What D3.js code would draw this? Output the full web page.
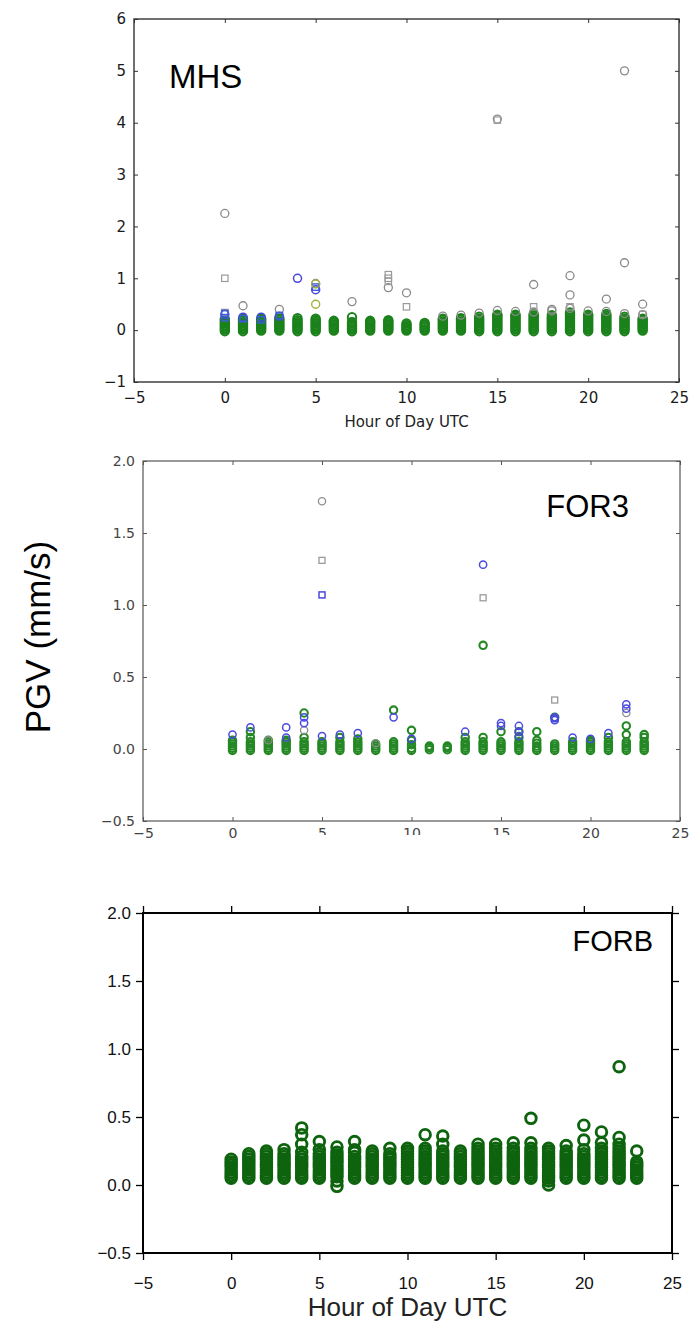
<!DOCTYPE html>
<html>
<head>
<meta charset="utf-8">
<script src="https://cdn.jsdelivr.net/npm/d3@7"></script>
<style>
  body { margin: 0; background: #fff; }
  svg { display: block; }
</style>
</head>
<body>
<div class="canvas"></div>
<script>
// hours of the day (x categories)
const hours = [0, 1, 2, 3, 4, 5, 6, 7, 8, 9, 10, 11, 12, 13, 14, 15, 16, 17, 18, 19, 20, 21, 22, 23];

// ---- MHS panel ----
// green columns, one list per hour
const mhsGreen = [
  [-0.02, 0.01, 0.04, 0.07, 0.1, 0.13, 0.16, 0.19, 0.21],
  [-0.02, 0.01, 0.04, 0.07, 0.1, 0.13, 0.16, 0.19, 0.22],
  [-0.01, 0.02, 0.05, 0.08, 0.11, 0.14, 0.17, 0.2, 0.22],
  [-0.01, 0.02, 0.05, 0.08, 0.11, 0.14, 0.17, 0.2, 0.23],
  [-0.02, 0.01, 0.04, 0.07, 0.1, 0.13, 0.16, 0.19, 0.23],
  [-0.02, 0.01, 0.04, 0.07, 0.1, 0.13, 0.16, 0.19, 0.22],
  [-0.01, 0.02, 0.05, 0.08, 0.11, 0.14, 0.16, 0.18],
  [-0.02, 0.01, 0.04, 0.07, 0.1, 0.13, 0.16, 0.25],
  [-0.01, 0.02, 0.05, 0.08, 0.11, 0.14, 0.16, 0.18],
  [-0.01, 0.02, 0.05, 0.08, 0.11, 0.14, 0.17, 0.19],
  [-0.01, 0.02, 0.04, 0.07, 0.1, 0.13],
  [-0.01, 0.02, 0.05, 0.08, 0.11, 0.14],
  [-0.01, 0.02, 0.05, 0.08, 0.11, 0.14, 0.17, 0.2, 0.22],
  [-0.01, 0.02, 0.05, 0.08, 0.11, 0.14, 0.17, 0.2, 0.23],
  [-0.02, 0.01, 0.04, 0.07, 0.1, 0.13, 0.16, 0.19, 0.22, 0.26],
  [-0.02, 0.01, 0.04, 0.07, 0.1, 0.13, 0.16, 0.19, 0.22, 0.25, 0.28, 0.3],
  [-0.02, 0.01, 0.04, 0.07, 0.1, 0.13, 0.16, 0.19, 0.22, 0.25, 0.28, 0.3],
  [-0.02, 0.01, 0.04, 0.07, 0.1, 0.13, 0.16, 0.19, 0.22, 0.25, 0.28, 0.31],
  [-0.02, 0.01, 0.04, 0.07, 0.1, 0.13, 0.16, 0.19, 0.22, 0.25, 0.29],
  [-0.02, 0.01, 0.04, 0.07, 0.1, 0.13, 0.16, 0.19, 0.22, 0.25, 0.28, 0.31, 0.34],
  [-0.02, 0.01, 0.04, 0.07, 0.1, 0.13, 0.16, 0.19, 0.22, 0.25, 0.28, 0.3],
  [-0.02, 0.01, 0.04, 0.07, 0.1, 0.13, 0.16, 0.19, 0.22, 0.25, 0.28, 0.31],
  [-0.02, 0.01, 0.04, 0.07, 0.1, 0.13, 0.16, 0.19, 0.22, 0.26],
  [-0.01, 0.02, 0.05, 0.08, 0.11, 0.14, 0.17, 0.2, 0.22]
];
const mhsGreyCircHour = [0, 1, 3, 5, 7, 9, 10, 15, 17, 18, 19, 19, 21, 22, 22, 23, 12, 13, 14, 15, 16, 17, 18, 19, 20, 21, 22, 23];
const mhsGreyCircVal = [2.25, 0.47, 0.4, 0.9, 0.55, 0.82, 0.72, 4.07, 0.88, 0.4, 0.68, 1.05, 0.6, 5.0, 1.3, 0.5, 0.27, 0.29, 0.33, 0.38, 0.36, 0.35, 0.37, 0.42, 0.37, 0.36, 0.32, 0.3];
const mhsGreySqHour = [0, 0, 9, 9, 9, 10, 15, 17, 19, 23];
const mhsGreySqVal = [1.0, 0.34, 1.07, 1.0, 0.94, 0.45, 4.05, 0.45, 0.45, 0.3];
const mhsBlueCircHour = [4, 5, 0, 1, 2, 3];
const mhsBlueCircVal = [1.0, 0.78, 0.3, 0.25, 0.25, 0.27];
const mhsBlueSqHour = [0, 0, 1, 2, 3, 5];
const mhsBlueSqVal = [0.32, 0.24, 0.22, 0.2, 0.28, 0.83];
const mhsOliveHour = [5, 5];
const mhsOliveVal = [0.89, 0.5];

// ---- FOR3 panel ----
const for3Green = [
  [-0.01, 0.005, 0.02, 0.035, 0.05, 0.06],
  [-0.01, 0.005, 0.02, 0.035, 0.05, 0.08, 0.12],
  [-0.01, 0.005, 0.02, 0.035, 0.05, 0.06],
  [-0.01, 0.005, 0.02, 0.035, 0.05, 0.06],
  [-0.01, 0.005, 0.02, 0.035, 0.05, 0.08, 0.25],
  [-0.01, 0.005, 0.02, 0.035, 0.05],
  [-0.01, 0.005, 0.02, 0.035, 0.05, 0.08],
  [-0.01, 0.005, 0.02, 0.035, 0.05, 0.07],
  [-0.01, 0.005, 0.02, 0.035],
  [-0.01, 0.005, 0.02, 0.035, 0.05, 0.27],
  [-0.01, 0.005, 0.03, 0.06, 0.13],
  [-0.005, 0.01, 0.02],
  [-0.005, 0.01, 0.02],
  [-0.01, 0.005, 0.02, 0.035, 0.05, 0.08],
  [-0.01, 0.005, 0.02, 0.035, 0.05, 0.08, 0.72],
  [-0.01, 0.005, 0.02, 0.035, 0.05, 0.12],
  [-0.01, 0.005, 0.02, 0.035, 0.05, 0.08, 0.12],
  [-0.01, 0.005, 0.02, 0.04, 0.06, 0.12],
  [-0.01, 0.005, 0.02, 0.035, 0.22],
  [-0.01, 0.005, 0.02, 0.035, 0.05],
  [-0.01, 0.005, 0.02, 0.035, 0.05, 0.06],
  [-0.01, 0.005, 0.02, 0.035, 0.05, 0.08],
  [-0.01, 0.005, 0.02, 0.035, 0.05, 0.1, 0.16],
  [-0.01, 0.005, 0.02, 0.035, 0.05, 0.08, 0.1]
];
const for3BlueCircHour = [0, 1, 3, 3, 4, 4, 5, 6, 7, 9, 10, 13, 14, 15, 15, 16, 16, 16, 18, 18, 19, 20, 21, 22, 22];
const for3BlueCircVal = [0.1, 0.15, 0.15, 0.08, 0.22, 0.18, 0.09, 0.1, 0.11, 0.22, 0.07, 0.12, 1.28, 0.18, 0.16, 0.16, 0.12, 0.09, 0.2, 0.22, 0.08, 0.07, 0.11, 0.31, 0.28];
const for3BlueSqHour = [5, 18];
const for3BlueSqVal = [1.07, 0.21];
const for3GreyCircHour = [5, 4, 22, 2, 8];
const for3GreyCircVal = [1.72, 0.13, 0.25, 0.06, 0.04];
const for3GreySqHour = [5, 14, 18];
const for3GreySqVal = [1.31, 1.05, 0.34];

// ---- FORB panel ----
const forbGreen = [
  [0.05, 0.07, 0.09, 0.11, 0.13, 0.15, 0.17, 0.19],
  [0.05, 0.07, 0.09, 0.11, 0.13, 0.15, 0.17, 0.19, 0.21, 0.23],
  [0.05, 0.07, 0.09, 0.11, 0.13, 0.15, 0.17, 0.19, 0.21, 0.23, 0.25],
  [0.05, 0.07, 0.09, 0.11, 0.13, 0.15, 0.17, 0.19, 0.21, 0.23, 0.26],
  [0.05, 0.07, 0.09, 0.11, 0.13, 0.15, 0.17, 0.19, 0.21, 0.24, 0.3, 0.37, 0.42],
  [0.05, 0.07, 0.09, 0.11, 0.13, 0.15, 0.17, 0.19, 0.21, 0.23, 0.26, 0.32],
  [-0.01, 0.03, 0.06, 0.08, 0.1, 0.12, 0.14, 0.16, 0.18, 0.2, 0.22, 0.24, 0.28],
  [0.05, 0.07, 0.09, 0.11, 0.13, 0.15, 0.17, 0.19, 0.21, 0.24, 0.26, 0.32],
  [0.05, 0.07, 0.09, 0.11, 0.13, 0.15, 0.17, 0.19, 0.21, 0.23, 0.25],
  [0.05, 0.07, 0.09, 0.11, 0.13, 0.15, 0.17, 0.19, 0.21, 0.23, 0.27],
  [0.05, 0.07, 0.09, 0.11, 0.13, 0.15, 0.17, 0.19, 0.21, 0.23, 0.25, 0.27],
  [0.05, 0.07, 0.09, 0.11, 0.13, 0.15, 0.17, 0.19, 0.21, 0.23, 0.25, 0.27, 0.37],
  [0.05, 0.07, 0.09, 0.11, 0.13, 0.15, 0.17, 0.19, 0.21, 0.23, 0.25, 0.3, 0.36],
  [0.05, 0.07, 0.09, 0.11, 0.13, 0.15, 0.17, 0.19, 0.21, 0.23, 0.25],
  [0.05, 0.07, 0.09, 0.11, 0.13, 0.15, 0.17, 0.19, 0.21, 0.23, 0.25, 0.27, 0.3],
  [0.05, 0.07, 0.09, 0.11, 0.13, 0.15, 0.17, 0.19, 0.21, 0.23, 0.25, 0.27, 0.3],
  [0.05, 0.07, 0.09, 0.11, 0.13, 0.15, 0.17, 0.19, 0.21, 0.23, 0.25, 0.27, 0.31],
  [0.05, 0.07, 0.09, 0.11, 0.13, 0.15, 0.17, 0.19, 0.21, 0.23, 0.25, 0.27, 0.31, 0.49],
  [0.0, 0.03, 0.05, 0.07, 0.09, 0.11, 0.13, 0.15, 0.17, 0.19, 0.21, 0.23, 0.25, 0.27],
  [0.05, 0.07, 0.09, 0.11, 0.13, 0.15, 0.17, 0.19, 0.21, 0.23, 0.25, 0.29],
  [0.05, 0.07, 0.09, 0.11, 0.13, 0.15, 0.17, 0.19, 0.21, 0.23, 0.26, 0.33, 0.44],
  [0.05, 0.07, 0.09, 0.11, 0.13, 0.15, 0.17, 0.19, 0.21, 0.23, 0.25, 0.27, 0.31, 0.39],
  [0.05, 0.07, 0.09, 0.11, 0.13, 0.15, 0.17, 0.19, 0.21, 0.23, 0.25, 0.27, 0.3, 0.35, 0.87],
  [0.05, 0.07, 0.09, 0.11, 0.13, 0.15, 0.17, 0.25]
];

// tick values
const xTicks = [-5, 0, 5, 10, 15, 20, 25];
const mhsYTicks = [-1, 0, 1, 2, 3, 4, 5, 6];
const pgvYTicks = [-0.5, 0.0, 0.5, 1.0, 1.5, 2.0];

// helpers to turn the arrays into points
const columns = (vals) => hours.flatMap((h, i) => vals[i].map(v => ({ h, v })));
const pairs = (hs, vs) => hs.map((h, i) => ({ h, v: vs[i] }));

const W = 694, H = 1331;
const svg = d3.select('.canvas').append('svg')
  .attr('width', W)
  .attr('height', H);

const panels = [
  {
    name: 'MHS', x0: 134, x1: 679, y0: 19, y1: 382, yDomain: [-1, 6], yTicks: mhsYTicks,
    fmt: d3.format('d'), font: 'DejaVu Sans', fs: 15, tickColor: '#1a1a1a', frame: '#333', frameW: 1.4,
    tick: 4, inward: true, xLabelY: 403, xTitle: { y: 427, fs: 15 },
    label: { text: 'MHS', x: 169, y: 88, fs: 33, anchor: 'start' },
    series: [
      { pts: columns(mhsGreen), shape: 'circle', color: '#1b821b', r: 4.2, sw: 2 },
      { pts: pairs(mhsGreyCircHour, mhsGreyCircVal), shape: 'circle', color: '#8a8a8a', r: 4, sw: 1.3 },
      { pts: pairs(mhsGreySqHour, mhsGreySqVal), shape: 'square', color: '#9a9a9a', r: 3.2, sw: 1.2 },
      { pts: pairs(mhsBlueCircHour, mhsBlueCircVal), shape: 'circle', color: '#4646dc', r: 4, sw: 1.5 },
      { pts: pairs(mhsBlueSqHour, mhsBlueSqVal), shape: 'square', color: '#3c5ce0', r: 3.2, sw: 1.4 },
      { pts: pairs(mhsOliveHour, mhsOliveVal), shape: 'circle', color: '#a4b03c', r: 4, sw: 1.4 }
    ]
  },
  {
    name: 'FOR3', x0: 143, x1: 680, y0: 461, y1: 821, yDomain: [-0.5, 2.0], yTicks: pgvYTicks,
    fmt: d3.format('.1f'), font: 'DejaVu Sans', fs: 14, tickColor: '#444', frame: '#555', frameW: 1.2,
    tick: 4, inward: true, xLabelY: 838, xTitle: null,
    label: { text: 'FOR3', x: 629, y: 517, fs: 31, anchor: 'end' },
    series: [
      { pts: columns(for3Green), shape: 'circle', color: '#248824', r: 3.7, sw: 2.1 },
      { pts: pairs(for3GreyCircHour, for3GreyCircVal), shape: 'circle', color: '#8e8e8e', r: 3.6, sw: 1.3 },
      { pts: pairs(for3GreySqHour, for3GreySqVal), shape: 'square', color: '#9a9a9a', r: 3, sw: 1.3 },
      { pts: pairs(for3BlueCircHour, for3BlueCircVal), shape: 'circle', color: '#4a4ae0', r: 3.6, sw: 1.5 },
      { pts: pairs(for3BlueSqHour, for3BlueSqVal), shape: 'square', color: '#4a4ae0', r: 3, sw: 1.5 }
    ]
  },
  {
    name: 'FORB', x0: 143, x1: 672, y0: 913, y1: 1253, yDomain: [-0.5, 2.0], yTicks: pgvYTicks,
    fmt: d3.format('.1f'), font: 'Liberation Sans', fs: 17, tickColor: '#111', frame: '#000', frameW: 2,
    tick: 7, inward: false, xLabelY: 1289, xTitle: { y: 1316, fs: 26 },
    label: { text: 'FORB', x: 653, y: 951, fs: 29, anchor: 'end' },
    series: [
      { pts: columns(forbGreen), shape: 'circle', color: '#0e640e', r: 5.3, sw: 2.9 }
    ]
  }
];

panels.forEach(p => {
  const x = d3.scaleLinear().domain([-5, 25]).range([p.x0, p.x1]);
  const y = d3.scaleLinear().domain(p.yDomain).range([p.y1, p.y0]);
  const g = svg.append('g').attr('class', 'panel-' + p.name);

  // ticks on all four sides (inward for matplotlib panels, outward for GMT one)
  const t = p.inward ? -p.tick : p.tick;
  const axes = [
    { ax: d3.axisBottom(x).tickValues(xTicks), tr: `translate(0,${p.y1})`, labels: true, bottom: true },
    { ax: d3.axisTop(x).tickValues(xTicks), tr: `translate(0,${p.y0})`, labels: false },
    { ax: d3.axisLeft(y).tickValues(p.yTicks).tickFormat(p.fmt), tr: `translate(${p.x0},0)`, labels: true },
    { ax: d3.axisRight(y).tickValues(p.yTicks), tr: `translate(${p.x1},0)`, labels: false }
  ];
  axes.forEach(a => {
    const ag = g.append('g')
      .attr('transform', a.tr)
      .call(a.ax.tickSizeInner(t).tickSizeOuter(0).tickPadding(p.inward ? 8 : 5));
    ag.select('.domain').remove();
    ag.selectAll('line').attr('stroke', p.frame).attr('stroke-width', p.inward ? 1 : 1.3);
    ag.selectAll('text')
      .attr('font-family', p.font)
      .attr('font-size', p.fs)
      .attr('fill', p.tickColor);
    if (!a.labels) ag.selectAll('text').remove();
    // x tick labels sit on a fixed baseline
    if (a.bottom) ag.selectAll('text').attr('y', p.xLabelY - p.y1).attr('dy', null);
  });

  // markers
  p.series.forEach(s => {
    if (s.shape === 'circle') {
      g.append('g').selectAll('circle')
        .data(s.pts)
        .enter().append('circle')
        .attr('cx', d => x(d.h))
        .attr('cy', d => y(d.v))
        .attr('r', s.r)
        .attr('fill', 'none')
        .attr('stroke', s.color)
        .attr('stroke-width', s.sw);
    } else {
      g.append('g').selectAll('rect')
        .data(s.pts)
        .enter().append('rect')
        .attr('x', d => x(d.h) - s.r)
        .attr('y', d => y(d.v) - s.r)
        .attr('width', s.r * 2)
        .attr('height', s.r * 2)
        .attr('fill', 'none')
        .attr('stroke', s.color)
        .attr('stroke-width', s.sw);
    }
  });

  // frame
  g.append('rect')
    .attr('x', p.x0).attr('y', p.y0)
    .attr('width', p.x1 - p.x0).attr('height', p.y1 - p.y0)
    .attr('fill', 'none')
    .attr('stroke', p.frame)
    .attr('stroke-width', p.frameW);

  // panel label
  g.append('text')
    .attr('x', p.label.x).attr('y', p.label.y)
    .attr('text-anchor', p.label.anchor)
    .attr('font-family', 'Liberation Sans')
    .attr('font-size', p.label.fs)
    .attr('fill', '#000')
    .text(p.label.text);

  if (p.xTitle) {
    g.append('text')
      .attr('x', (p.x0 + p.x1) / 2).attr('y', p.xTitle.y)
      .attr('text-anchor', 'middle')
      .attr('font-family', p.font)
      .attr('font-size', p.xTitle.fs)
      .attr('fill', '#222')
      .text('Hour of Day UTC');
  }
});

// lower panel's image overlaps the middle x labels in the reference
svg.append('rect')
  .attr('x', 300).attr('y', 835)
  .attr('width', 235).attr('height', 14)
  .attr('fill', '#fff');

// shared y title
svg.append('text')
  .attr('transform', 'translate(50,637) rotate(-90)')
  .attr('text-anchor', 'middle')
  .attr('font-family', 'Liberation Sans')
  .attr('font-size', 35)
  .attr('fill', '#000')
  .text('PGV (mm/s)');
</script>
</body>
</html>
